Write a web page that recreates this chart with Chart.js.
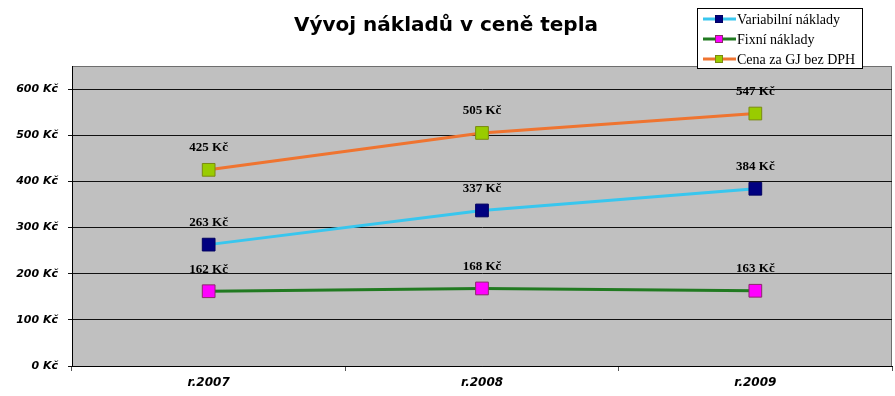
<!DOCTYPE html>
<html>
<head>
    <meta charset="UTF-8">
    <script src="https://cdn.jsdelivr.net/npm/chart.js@4.4.1/dist/chart.umd.min.js"></script>
    <title>Vývoj nákladů v ceně tepla</title>
    <style>
        html, body { margin: 0; padding: 0; background: #fff; }
        #wrap { width: 895px; height: 396px; }
    </style>
</head>
<body>
    <div id="wrap"><canvas id="myChart" width="895" height="396"></canvas></div>
    <script>
        // data
        const years = ['r.2007', 'r.2008', 'r.2009'];
        const variabilni = [263, 337, 384];
        const fixni = [162, 168, 163];
        const cena = [425, 505, 547];
        const yTicks = [0, 100, 200, 300, 400, 500, 600];
        const names = ['Variabilní náklady', 'Fixní náklady', 'Cena za GJ bez DPH'];

        const bgPlugin = {
            id: 'bg',
            beforeDraw(chart) {
                const ctx = chart.ctx, a = chart.chartArea;
                ctx.save();
                ctx.fillStyle = '#fff';
                ctx.fillRect(0, 0, chart.width, chart.height);
                ctx.fillStyle = '#c0c0c0';
                ctx.fillRect(a.left, a.top, a.right - a.left, a.bottom - a.top);
                ctx.strokeStyle = '#6e6e6e';
                ctx.lineWidth = 1;
                ctx.strokeRect(a.left + 0.5, a.top + 0.5, a.right - a.left - 1, a.bottom - a.top);
                ctx.restore();
            }
        };

        const labelPlugin = {
            id: 'valLabels',
            afterDatasetsDraw(chart) {
                const ctx = chart.ctx;
                ctx.save();
                ctx.font = 'bold 13px "Liberation Serif"';
                ctx.fillStyle = '#000';
                ctx.textAlign = 'center';
                ctx.textBaseline = 'middle';
                chart.data.datasets.forEach((ds, i) => {
                    chart.getDatasetMeta(i).data.forEach((pt, j) => {
                        ctx.fillText(ds.data[j] + ' Kč', pt.x, pt.y - 22);
                    });
                });
                ctx.restore();
            }
        };

        const legendPlugin = {
            id: 'boxLegend',
            afterDraw(chart) {
                const ctx = chart.ctx;
                ctx.save();
                ctx.fillStyle = '#fff';
                ctx.fillRect(697, 8, 165, 60);
                ctx.strokeStyle = '#000';
                ctx.lineWidth = 1;
                ctx.strokeRect(697.5, 8.5, 165, 60);
                ctx.font = '14px "Liberation Serif"';
                ctx.textAlign = 'left';
                ctx.textBaseline = 'middle';
                chart.data.datasets.forEach((ds, i) => {
                    const y = 19 + 20 * i;
                    ctx.strokeStyle = ds.borderColor;
                    ctx.lineWidth = 3;
                    ctx.beginPath();
                    ctx.moveTo(703, y);
                    ctx.lineTo(736, y);
                    ctx.stroke();
                    ctx.fillStyle = ds.pointBackgroundColor;
                    ctx.fillRect(715, y - 4, 8, 8);
                    ctx.strokeStyle = ds.pointBorderColor;
                    ctx.lineWidth = 1;
                    ctx.strokeRect(715.5, y - 3.5, 7, 7);
                    ctx.fillStyle = '#000';
                    ctx.fillText(ds.label, 737, y + 1);
                });
                ctx.restore();
            }
        };

        const ctx = document.getElementById('myChart').getContext('2d');
        const myChart = new Chart(ctx, {
            type: 'line',
            data: {
                labels: years,
                datasets: [{
                    label: names[0],
                    data: variabilni,
                    borderColor: '#38c6ee',
                    pointBackgroundColor: '#000080',
                    pointBorderColor: '#000060'
                }, {
                    label: names[1],
                    data: fixni,
                    borderColor: '#217a21',
                    pointBackgroundColor: '#ff00ff',
                    pointBorderColor: '#8a2a6a'
                }, {
                    label: names[2],
                    data: cena,
                    borderColor: '#ef7430',
                    pointBackgroundColor: '#99cc00',
                    pointBorderColor: '#7a8a10'
                }]
            },
            options: {
                responsive: false,
                animation: false,
                layout: { autoPadding: false, padding: { top: 0, right: 3, bottom: 0, left: 0 } },
                elements: {
                    line: { borderWidth: 3, tension: 0 },
                    point: { pointStyle: 'rect', radius: 9, borderWidth: 1 }
                },
                plugins: {
                    legend: { display: false },
                    tooltip: { enabled: false },
                    title: {
                        display: true,
                        text: 'Vývoj nákladů v ceně tepla',
                        color: '#000',
                        font: { family: 'DejaVu Sans', size: 20, weight: 'bold' },
                        padding: { top: 14, bottom: 28 }
                    }
                },
                scales: {
                    x: {
                        offset: true,
                        grid: { display: true, drawOnChartArea: false, drawTicks: true, tickLength: 5, offset: true, color: '#555' },
                        border: { color: '#000', width: 1 },
                        ticks: {
                            color: '#000',
                            padding: 5,
                            font: { family: 'DejaVu Sans', size: 12, weight: 'bold', style: 'italic' }
                        },
                        afterFit(scale) { scale.height = 30; }
                    },
                    y: {
                        min: 0,
                        max: 650,
                        grid: { color: '#111', lineWidth: 1, drawTicks: true, tickLength: 4 },
                        border: { color: '#000', width: 1 },
                        ticks: {
                            color: '#000',
                            padding: 10,
                            font: { family: 'DejaVu Sans', size: 11, weight: 'bold', style: 'italic' },
                            callback: (v) => v + ' Kč'
                        },
                        afterBuildTicks(axis) {
                            axis.ticks = yTicks.map(v => ({ value: v }));
                        },
                        afterFit(scale) { scale.width = 72; }
                    }
                }
            },
            plugins: [bgPlugin, labelPlugin, legendPlugin]
        });
    </script>
</body>
</html>
